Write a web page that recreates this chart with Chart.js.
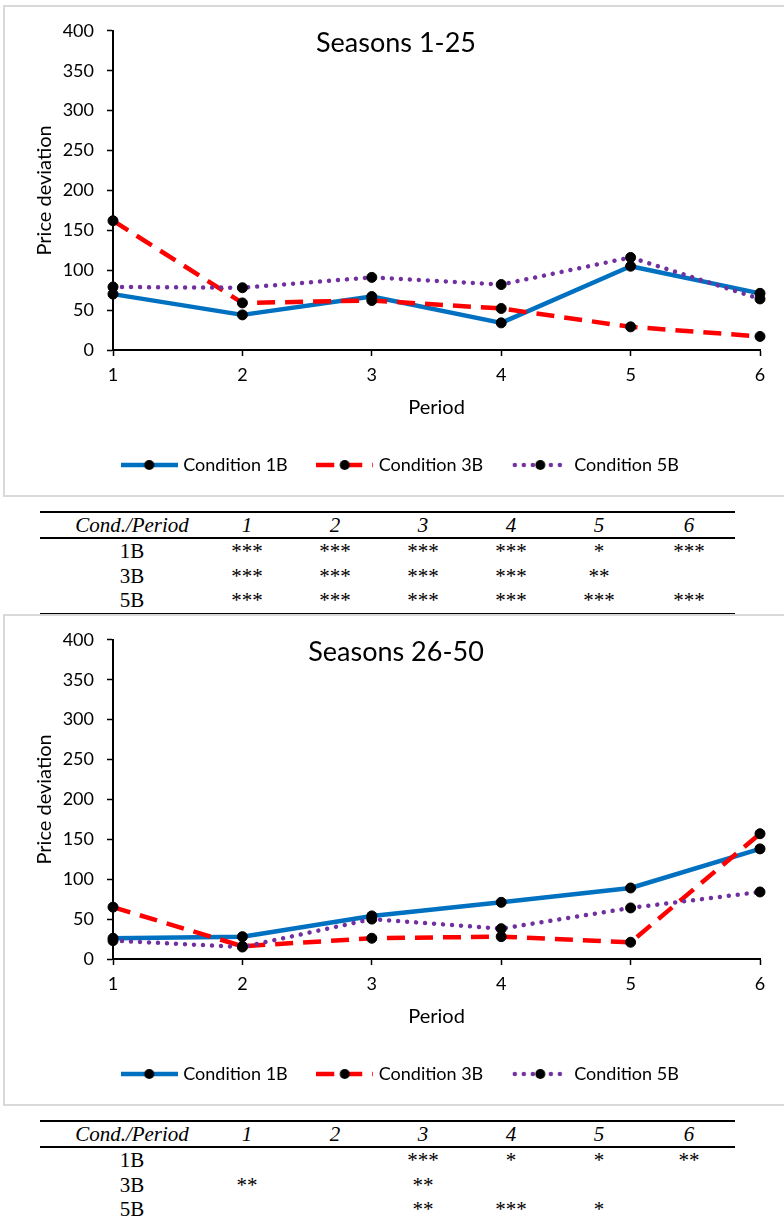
<!DOCTYPE html>
<html>
<head>
<meta charset="utf-8">
<script src="https://cdn.jsdelivr.net/npm/chart.js@4.4.1/dist/chart.umd.min.js"></script>
<style>
  html, body { margin: 0; padding: 0; background: #fff; overflow: hidden; }
  body { position: relative; width: 784px; height: 1222px; }
  .box { position: absolute; left: 3px; width: 800px; height: 488px; border: 2px solid #d9d9d9; }
  .box canvas { display: block; }
  .sig { position: absolute; left: 40px; width: 695px; border-collapse: collapse; table-layout: fixed;
         font-family: "Liberation Serif", serif; font-size: 21px; color: #000; border-top: 2px solid #000; }
  .sig th { font-style: italic; font-weight: normal; height: 24px; line-height: 24px; padding: 0;
            text-align: center; border-bottom: 2px solid #000; }
  .sig td { height: 24.5px; line-height: 24.5px; padding: 0; text-align: center; }
  .sig .first { padding-left: 21px; }
  .sig.closed { border-bottom: 2px solid #000; }
</style>
</head>
<body>
<div class="box" style="top:5px"><canvas id="chart1" width="796" height="488"></canvas></div>
<table class="sig closed" id="table1" style="top:511px"></table>
<div class="box" style="top:614px"><canvas id="chart2" width="796" height="488"></canvas></div>
<table class="sig" id="table2" style="top:1120px"></table>

<script>
  // periods on the x axis
  const periods = ['1', '2', '3', '4', '5', '6'];
  const yTicksMax = 400;
  const yTickStep = 50;

  // Seasons 1-25
  const early1B = [70, 44, 67, 34, 105, 71];
  const early3B = [162, 59, 62, 52, 29, 17];
  const early5B = [79, 78, 91, 82, 116, 64];

  // Seasons 26-50
  const late1B = [26, 28, 54, 71, 89, 138];
  const late3B = [65, 16, 26, 28, 21, 157];
  const late5B = [23, 15, 50, 38, 64, 84];

  // significance tables
  const condLabels = ['1B', '3B', '5B'];
  const early1BSig = ['***', '***', '***', '***', '*', '***'];
  const early3BSig = ['***', '***', '***', '***', '**', ''];
  const early5BSig = ['***', '***', '***', '***', '***', '***'];
  const late1BSig = ['', '', '***', '*', '*', '**'];
  const late3BSig = ['**', '', '**', '', '', ''];
  const late5BSig = ['', '', '**', '***', '*', ''];

  const FONT = 'Lato';
  const BLUE = '#0070C0', RED = '#FF0000', PURPLE = '#7030A0';

  // small picture for the legend: line sample with a black marker in the middle
  function legendIcon(color, dash, cap) {
    const c = document.createElement('canvas');
    c.width = 57; c.height = 14;
    const g = c.getContext('2d');
    g.strokeStyle = color;
    g.lineWidth = 4.5;
    g.lineCap = cap;
    g.setLineDash(dash);
    g.beginPath();
    g.moveTo(cap === 'round' ? 3 : 0, 7);
    g.lineTo(57, 7);
    g.stroke();
    g.fillStyle = '#000';
    g.beginPath();
    g.arc(28.5, 7, 5, 0, Math.PI * 2);
    g.fill();
    return c;
  }
  const icons = [
    legendIcon(BLUE, [], 'butt'),
    legendIcon(RED, [18, 10], 'butt'),
    legendIcon(PURPLE, [0.01, 9], 'round')
  ];

  // title sits inside the plot, like the Excel original
  const innerTitle = {
    id: 'innerTitle',
    afterDraw(chart, args, opts) {
      const ctx = chart.ctx;
      ctx.save();
      ctx.font = '27px ' + FONT;
      ctx.fillStyle = '#000';
      ctx.textAlign = 'center';
      ctx.textBaseline = 'middle';
      ctx.fillText(opts.text, chart.width / 2 - 7, chart.chartArea.top + 12);
      ctx.restore();
    }
  };

  function series(label, data, color, dash, cap, order) {
    return {
      label: label,
      data: data,
      borderColor: color,
      backgroundColor: color,
      borderWidth: 4.5,
      borderDash: dash,
      borderCapStyle: cap,
      borderJoinStyle: 'round',
      tension: 0,
      pointRadius: 5,
      pointBackgroundColor: '#000',
      pointBorderColor: '#000',
      pointBorderWidth: 1,
      order: order
    };
  }

  function makeChart(id, title, d1, d3, d5) {
    new Chart(document.getElementById(id), {
      type: 'line',
      data: {
        labels: periods,
        datasets: [
          series('Condition 1B', d1, BLUE, [], 'butt', 3),
          series('Condition 3B', d3, RED, [18, 10], 'butt', 2),
          series('Condition 5B', d5, PURPLE, [0.01, 9], 'round', 1)
        ]
      },
      options: {
        responsive: false,
        animation: false,
        layout: { padding: { left: 38, right: 41, top: 23, bottom: 11 } },
        plugins: {
          innerTitle: { text: title },
          tooltip: { enabled: false },
          legend: {
            position: 'bottom',
            labels: {
              usePointStyle: true,
              pointStyleWidth: 50,
              padding: 32,
              color: '#000',
              font: { family: FONT, size: 18 },
              // keep legend in dataset order, not in drawing order
              sort: (a, b) => a.datasetIndex - b.datasetIndex,
              generateLabels: chart => {
                const items = Chart.defaults.plugins.legend.labels.generateLabels(chart);
                items.forEach(it => { it.pointStyle = icons[it.datasetIndex]; });
                return items;
              }
            }
          }
        },
        scales: {
          x: {
            offset: false,
            grid: { drawOnChartArea: false, tickLength: 6, tickColor: '#000', tickWidth: 1.5 },
            border: { color: '#000', width: 2 },
            ticks: { color: '#000', font: { family: FONT, size: 18 }, padding: 8, maxRotation: 0 },
            title: { display: true, text: 'Period', color: '#000', font: { family: FONT, size: 20 }, padding: { top: 4, bottom: 4 } },
            afterFit: s => { s.height = 74; }
          },
          y: {
            min: 0,
            max: yTicksMax,
            grid: { drawOnChartArea: false, tickLength: 6, tickColor: '#000', tickWidth: 1.5 },
            border: { color: '#000', width: 2 },
            ticks: { stepSize: yTickStep, color: '#000', font: { family: FONT, size: 18 }, padding: 13 },
            title: { display: true, text: 'Price deviation', color: '#000', font: { family: FONT, size: 20 }, padding: { top: -10, bottom: 4 } },
            afterFit: s => { s.width = 70; }
          }
        }
      },
      plugins: [innerTitle]
    });
  }

  function makeTable(id, rows) {
    const t = document.getElementById(id);
    let html = '<colgroup><col style="width:163px">' +
      periods.map((p, i) => '<col style="width:' + (i === 5 ? 92 : 88) + 'px">').join('') + '</colgroup>';
    html += '<tr><th class="first">Cond./Period</th>' + periods.map(p => '<th>' + p + '</th>').join('') + '</tr>';
    rows.forEach((r, i) => {
      html += '<tr><td class="first">' + condLabels[i] + '</td>' + r.map(v => '<td>' + v + '</td>').join('') + '</tr>';
    });
    t.innerHTML = html;
  }

  makeChart('chart1', 'Seasons 1-25', early1B, early3B, early5B);
  makeChart('chart2', 'Seasons 26-50', late1B, late3B, late5B);
  makeTable('table1', [early1BSig, early3BSig, early5BSig]);
  makeTable('table2', [late1BSig, late3BSig, late5BSig]);
</script>
</body>
</html>
